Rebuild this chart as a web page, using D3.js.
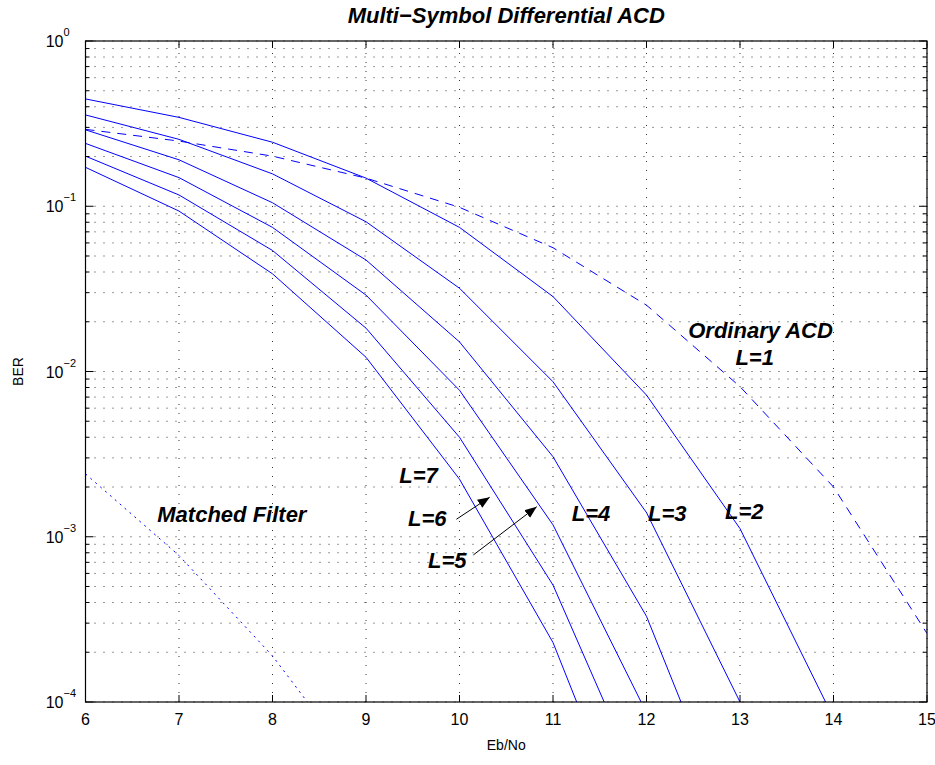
<!DOCTYPE html>
<html>
<head>
<meta charset="utf-8">
<script src="https://cdn.jsdelivr.net/npm/d3@7"></script>
<style>
  body { margin: 0; background: #fff; }
  svg { font-family: "Liberation Sans", Arial, Helvetica, sans-serif; }
  .note { font-weight: bold; font-style: italic; font-size: 22px; fill: #000; }
</style>
</head>
<body>
<svg width="935" height="765"></svg>
<script>
"use strict";

// Eb/No (dB) and BER values
const ebno = [6, 7, 8, 9, 10, 11, 12, 13, 14, 15];
const berL1 = [0.292, 0.248, 0.201, 0.148, 0.0985, 0.0561, 0.0252, 0.0081, 0.0020, 0.00026];
const berL2 = [0.446, 0.345, 0.244, 0.148, 0.0745, 0.0284, 0.0072, 0.00112, 0.00008];
const berL3 = [0.357, 0.254, 0.157, 0.0806, 0.0319, 0.00867, 0.0014, 0.0001];
const berL4 = [0.29, 0.191, 0.105, 0.0473, 0.0151, 0.00305, 0.00033, 0.000013];
const berL5 = [0.24, 0.149, 0.0745, 0.029, 0.0077, 0.00118, 0.000086];
const berL6 = [0.201, 0.117, 0.054, 0.0183, 0.0040, 0.00051, 0.000026];
const berL7 = [0.172, 0.0935, 0.039, 0.0122, 0.00223, 0.000229, 0.0000087];
const berMF = [0.0024, 0.00077, 0.00019, 0.000034];

const xTicks = [6, 7, 8, 9, 10, 11, 12, 13, 14, 15];
const yExponents = [0, -1, -2, -3, -4];

// text labels in data coordinates
const labels = [
  {t: "L=7", x: 9.356, y: 0.00211, a: "start"},
  {t: "L=6", x: 9.449, y: 0.00116, a: "start"},
  {t: "L=5", x: 9.663, y: 0.000647, a: "start"},
  {t: "L=4", x: 11.2, y: 0.00125, a: "start"},
  {t: "L=3", x: 12.016, y: 0.00125, a: "start"},
  {t: "L=2", x: 12.84, y: 0.00128, a: "start"},
  {t: "Ordinary ACD", x: 13.22, y: 0.01595, a: "middle"},
  {t: "L=1", x: 13.157, y: 0.01094, a: "middle"},
  {t: "Matched Filter", x: 6.768, y: 0.00123, a: "start"}
];
const arrows = [
  {x1: 9.967, y1: 0.001276, x2: 10.323, y2: 0.001734},
  {x1: 10.148, y1: 0.000776, x2: 10.826, y2: 0.00152}
];

const margin = {left: 85.5, top: 41, right: 8, bottom: 63};
const svg = d3.select("svg");
const W = 935, H = 765;

const x = d3.scaleLinear().domain([6, 15]).range([margin.left, W - margin.right]);
const y = d3.scaleLog().domain([1e-4, 1]).range([H - margin.bottom, margin.top]);

const x0 = x(6), x1 = x(15), y0 = y(1e-4), y1 = y(1);

// grid
const grid = svg.append("g");
const minorY = [];
for (let e = -4; e < 0; e++) {
  for (let m = 1; m < 10; m++) minorY.push(m * Math.pow(10, e));
}
minorY.push(1);
grid.selectAll("line.gy").data(minorY).enter().append("line")
  .attr("x1", x0).attr("x2", x1)
  .attr("y1", d => y(d)).attr("y2", d => y(d))
  .attr("stroke", "#333").attr("stroke-width", 1)
  .attr("stroke-dasharray", "1,8");
grid.selectAll("line.gx").data(xTicks).enter().append("line")
  .attr("y1", y0).attr("y2", y1)
  .attr("x1", d => x(d)).attr("x2", d => x(d))
  .attr("stroke", "#333").attr("stroke-width", 1)
  .attr("stroke-dasharray", "1,8");

// clip
svg.append("clipPath").attr("id", "clip").append("rect")
  .attr("x", x0).attr("y", y1).attr("width", x1 - x0).attr("height", y0 - y1);

const line = d3.line().x((d, i) => x(ebno[i])).y(d => y(d));
const plot = svg.append("g").attr("clip-path", "url(#clip)");

const solid = [berL2, berL3, berL4, berL5, berL6, berL7];
plot.selectAll("path.solid").data(solid).enter().append("path")
  .attr("d", line)
  .attr("fill", "none").attr("stroke", "#0000ff").attr("stroke-width", 1);

plot.append("path").attr("d", line(berL1))
  .attr("fill", "none").attr("stroke", "#0000ff").attr("stroke-width", 1)
  .attr("stroke-dasharray", "9,7");

plot.append("path").attr("d", line(berMF))
  .attr("fill", "none").attr("stroke", "#0000ff").attr("stroke-width", 1)
  .attr("stroke-dasharray", "2,4.5");

// box
svg.append("rect").attr("x", x0).attr("y", y1)
  .attr("width", x1 - x0).attr("height", y0 - y1)
  .attr("fill", "none").attr("stroke", "#000").attr("stroke-width", 1.2);

// ticks (inward, on all sides)
const ticks = svg.append("g").attr("stroke", "#000").attr("stroke-width", 1);
xTicks.forEach(v => {
  ticks.append("line").attr("x1", x(v)).attr("x2", x(v)).attr("y1", y0).attr("y2", y0 - 7);
  ticks.append("line").attr("x1", x(v)).attr("x2", x(v)).attr("y1", y1).attr("y2", y1 + 7);
});
minorY.forEach(v => {
  const major = Math.abs(Math.log10(v) - Math.round(Math.log10(v))) < 1e-9;
  const len = major ? 8 : 4;
  ticks.append("line").attr("x1", x0).attr("x2", x0 + len).attr("y1", y(v)).attr("y2", y(v));
  ticks.append("line").attr("x1", x1).attr("x2", x1 - len).attr("y1", y(v)).attr("y2", y(v));
});

// tick labels
svg.selectAll("text.xt").data(xTicks).enter().append("text")
  .attr("x", d => x(d)).attr("y", y0 + 23)
  .attr("text-anchor", "middle").attr("font-size", 16).text(d => d);

const yl = svg.selectAll("text.yt").data(yExponents).enter().append("text")
  .attr("x", x0 - 22).attr("y", d => y(Math.pow(10, d)) + 6)
  .attr("text-anchor", "end").attr("font-size", 16);
yl.append("tspan").text("10");
yl.append("tspan").attr("dy", -11).attr("font-size", 11)
  .text(d => d === 0 ? "0" : "\u2212" + Math.abs(d));
svg.selectAll("text.yt2").data(yExponents).enter().append("text")
  .attr("x", x0 - 22).attr("y", d => y(Math.pow(10, d)) - 5)
  .attr("font-size", 11)
  .text(d => d === 0 ? "0" : "\u2212" + Math.abs(d));
yl.selectAll("tspan:nth-child(2)").remove();

// axis titles
svg.append("text").attr("x", (x0 + x1) / 2).attr("y", 23)
  .attr("text-anchor", "middle").attr("class", "note")
  .text("Multi\u2212Symbol Differential ACD");
svg.append("text").attr("x", (x0 + x1) / 2).attr("y", 750)
  .attr("text-anchor", "middle").attr("font-size", 14).text("Eb/No");
svg.append("text").attr("transform", `translate(23,${(y0 + y1) / 2}) rotate(-90)`)
  .attr("text-anchor", "middle").attr("font-size", 14).text("BER");

// annotations
svg.selectAll("text.lab").data(labels).enter().append("text")
  .attr("class", "note")
  .attr("x", d => x(d.x)).attr("y", d => y(d.y))
  .attr("text-anchor", d => d.a).text(d => d.t);

svg.append("defs").append("marker").attr("id", "head")
  .attr("viewBox", "0 0 10 10").attr("refX", 10).attr("refY", 5)
  .attr("markerWidth", 12).attr("markerHeight", 12).attr("markerUnits", "userSpaceOnUse")
  .attr("orient", "auto")
  .append("path").attr("d", "M0,1 L10,5 L0,9 Z").attr("fill", "#000");

svg.selectAll("line.arr").data(arrows).enter().append("line")
  .attr("x1", d => x(d.x1)).attr("y1", d => y(d.y1))
  .attr("x2", d => x(d.x2)).attr("y2", d => y(d.y2))
  .attr("stroke", "#000").attr("stroke-width", 1)
  .attr("marker-end", "url(#head)");
</script>
</body>
</html>
